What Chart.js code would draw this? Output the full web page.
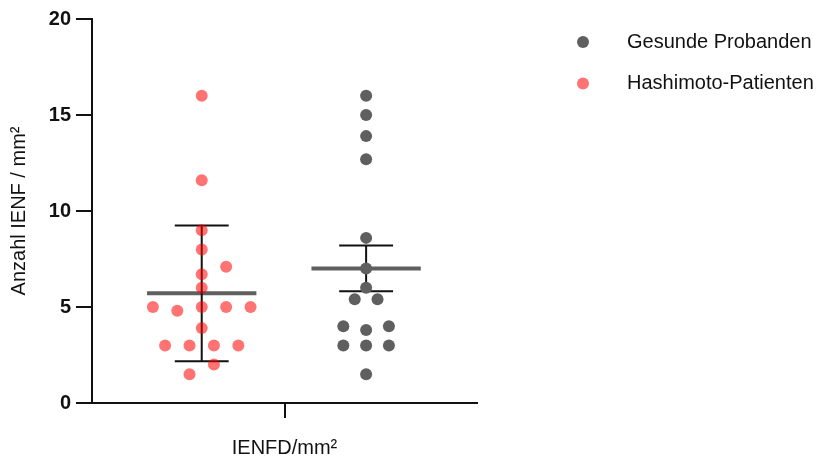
<!DOCTYPE html>
<html>
<head>
<meta charset="utf-8">
<script src="https://cdn.jsdelivr.net/npm/chart.js@4.4.1/dist/chart.umd.min.js"></script>
<style>
    html, body { margin: 0; padding: 0; background: #fff; }
    #wrap { width: 817px; height: 461px; }
</style>
</head>
<body>
<div id="wrap"><canvas id="chart"></canvas></div>
<script>
const seriesNames = ['Gesunde Probanden', 'Hashimoto-Patienten'];
const xLabel = 'IENFD/mm²';
const yLabel = 'Anzahl IENF / mm²';
const yTicks = [0, 5, 10, 15, 20];

const healthyValues = [16, 15, 13.9, 12.7, 8.6, 7, 6, 5.4, 5.4, 4, 4, 3.8, 3, 3, 3, 1.5];
const hashimotoValues = [16, 11.6, 9, 8, 7.1, 6.7, 6, 5, 5, 5, 5, 4.8, 3.9, 3, 3, 3, 3, 2, 1.5];

// mean line and error bar ends
const healthyMean = 7.0;
const healthyError = [5.82, 8.2];
const hashimotoMean = 5.72;
const hashimotoError = [2.17, 9.25];

// swarm column of each dot, in steps away from the group centre
const healthySlots = [0, 0, 0, 0, 0, 0, 0, -0.5, 0.5, -1, 1, 0, -1, 0, 1, 0];
const hashimotoSlots = [0, 0, 0, 0, 1, 0, 0, -2, 0, 1, 2, -1, 0, -1.5, -0.5, 0.5, 1.5, 0.5, -0.5];

(() => {
    const FONT = "'Liberation Sans', Arial, Helvetica, sans-serif";
    const INK = '#111';
    const GRAY = '#5f5f5f';
    const PINK = 'rgba(255, 0, 0, 0.55)';

    const groups = [
        { center: 0.285, step: 0.0634, values: hashimotoValues, slots: hashimotoSlots, mean: hashimotoMean, error: hashimotoError, color: PINK },
        { center: 0.712, step: 0.0592, values: healthyValues, slots: healthySlots, mean: healthyMean, error: healthyError, color: GRAY },
    ];

    const toPoints = (g) => g.values.map((v, i) => ({ x: g.center + g.slots[i] * g.step, y: v }));

    const statsPlugin = {
        id: 'groupStats',
        beforeDatasetsDraw(chart) {
            const { ctx, scales: { x, y } } = chart;
            ctx.save();
            groups.forEach((g) => {
                // mean
                ctx.strokeStyle = GRAY;
                ctx.lineWidth = 4;
                ctx.beginPath();
                ctx.moveTo(x.getPixelForValue(g.center - 0.142), y.getPixelForValue(g.mean));
                ctx.lineTo(x.getPixelForValue(g.center + 0.142), y.getPixelForValue(g.mean));
                ctx.stroke();

                // error bar with caps
                const cx = x.getPixelForValue(g.center);
                const lo = y.getPixelForValue(g.error[0]);
                const hi = y.getPixelForValue(g.error[1]);
                const c0 = x.getPixelForValue(g.center - 0.07);
                const c1 = x.getPixelForValue(g.center + 0.07);
                ctx.strokeStyle = INK;
                ctx.lineWidth = 2;
                ctx.beginPath();
                ctx.moveTo(cx, lo);
                ctx.lineTo(cx, hi);
                ctx.moveTo(c0, lo);
                ctx.lineTo(c1, lo);
                ctx.moveTo(c0, hi);
                ctx.lineTo(c1, hi);
                ctx.stroke();
            });
            ctx.restore();
        },
        afterDraw(chart) {
            const { ctx } = chart;
            const items = [
                { name: seriesNames[0], color: GRAY, y: 42 },
                { name: seriesNames[1], color: PINK, y: 83.5 },
            ];
            ctx.save();
            ctx.font = '20px ' + FONT;
            ctx.textBaseline = 'middle';
            ctx.textAlign = 'left';
            items.forEach((item) => {
                ctx.fillStyle = item.color;
                ctx.beginPath();
                ctx.arc(583, item.y, 6, 0, Math.PI * 2);
                ctx.fill();
                ctx.fillStyle = INK;
                ctx.fillText(item.name, 627, item.y);
            });
            ctx.restore();
        },
    };

    new Chart(document.getElementById('chart'), {
        type: 'scatter',
        data: {
            datasets: [
                {
                    label: seriesNames[1],
                    data: toPoints(groups[0]),
                    backgroundColor: PINK,
                    borderWidth: 0,
                    pointRadius: 6,
                },
                {
                    label: seriesNames[0],
                    data: toPoints(groups[1]),
                    backgroundColor: GRAY,
                    borderWidth: 0,
                    pointRadius: 6,
                },
            ],
        },
        options: {
            responsive: true,
            maintainAspectRatio: false,
            animation: false,
            layout: {
                padding: { top: 19, right: 340, bottom: 0, left: 0 },
            },
            plugins: {
                legend: { display: false },
                tooltip: { enabled: false },
            },
            scales: {
                x: {
                    type: 'linear',
                    min: 0,
                    max: 1,
                    afterBuildTicks(scale) {
                        scale.ticks = [{ value: 0.5 }];
                    },
                    afterFit(scale) {
                        scale.height = 58;
                    },
                    ticks: { display: false },
                    grid: { drawOnChartArea: false, tickLength: 15, color: INK, lineWidth: 2 },
                    border: { color: INK, width: 2 },
                    title: {
                        display: true,
                        text: xLabel,
                        color: INK,
                        font: { family: FONT, size: 20 },
                        padding: { top: 0, bottom: 1 },
                    },
                },
                y: {
                    min: 0,
                    max: 20,
                    afterBuildTicks(scale) {
                        scale.ticks = yTicks.map((v) => ({ value: v }));
                    },
                    afterFit(scale) {
                        scale.width = 92;
                    },
                    ticks: {
                        color: INK,
                        padding: 5,
                        font: { family: FONT, size: 20, weight: 'bold' },
                    },
                    grid: { drawOnChartArea: false, tickLength: 16, color: INK, lineWidth: 2 },
                    border: { color: INK, width: 2 },
                    title: {
                        display: true,
                        text: yLabel,
                        color: INK,
                        font: { family: FONT, size: 20 },
                        padding: { top: 7, bottom: 0 },
                    },
                },
            },
        },
        plugins: [statsPlugin],
    });
})();
</script>
</body>
</html>
